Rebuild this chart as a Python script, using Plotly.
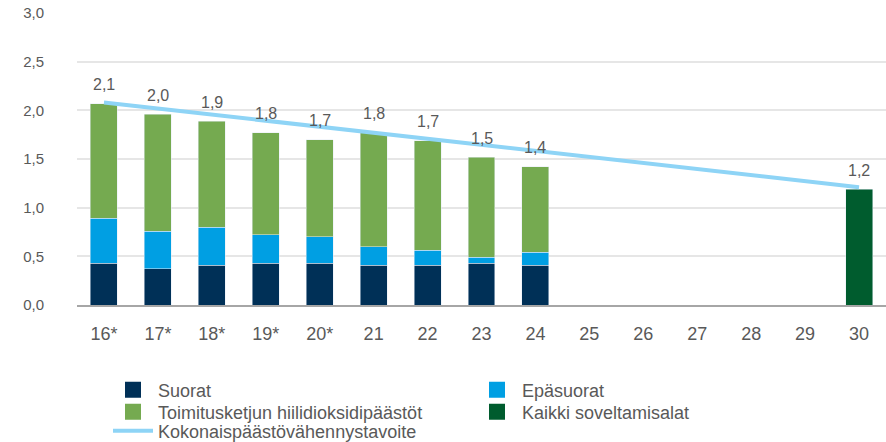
import plotly.graph_objects as go

categories = ["16*", "17*", "18*", "19*", "20*", "21", "22", "23", "24",
              "25", "26", "27", "28", "29", "30"]
bar_years = ["16*", "17*", "18*", "19*", "20*", "21", "22", "23", "24"]
suorat = [0.43, 0.37, 0.41, 0.43, 0.43, 0.41, 0.41, 0.43, 0.41]
epasuorat = [0.46, 0.39, 0.39, 0.29, 0.27, 0.19, 0.15, 0.06, 0.13]
toimitusketju = [1.18, 1.20, 1.09, 1.05, 1.00, 1.17, 1.13, 1.03, 0.88]
kaikki_years = ["30"]
kaikki = [1.19]
target_years = ["16*", "30"]
target = [2.08, 1.21]

names = ["Suorat", "Epäsuorat", "Toimitusketjun hiilidioksidipäästöt",
         "Kaikki soveltamisalat", "Kokonaispäästövähennystavoite"]
C_NAVY = "#003057"
C_BLUE = "#009FE3"
C_GREEN = "#75AA50"
C_DGREEN = "#005C2E"
C_LINE = "#8ED4F6"
TXT = "#595959"

fig = go.Figure()
fig.add_bar(x=bar_years, y=suorat, marker_color=C_NAVY, showlegend=False, name=names[0])
fig.add_bar(x=bar_years, y=epasuorat, marker_color=C_BLUE, showlegend=False, name=names[1])
fig.add_bar(x=bar_years, y=toimitusketju, marker_color=C_GREEN, showlegend=False, name=names[2])
fig.add_bar(x=kaikki_years, y=kaikki, marker_color=C_DGREEN, showlegend=False, name=names[3])
fig.add_scatter(x=target_years, y=target, mode="lines",
                line=dict(color=C_LINE, width=4), showlegend=False, name=names[4])

# legend entries (three rows, each its own legend)
legend_rows = [("legend", [(names[0], C_NAVY), (names[1], C_BLUE)]),
               ("legend2", [(names[2], C_GREEN), (names[3], C_DGREEN)])]
for lg, items in legend_rows:
    for nm, col in items:
        fig.add_scatter(x=[None], y=[None], mode="markers", name=nm, legend=lg,
                        marker=dict(symbol="square", size=19, color=col, line=dict(width=0)))
fig.add_scatter(x=[None], y=[None], mode="lines", name=names[4], legend="legend3",
                line=dict(color=C_LINE, width=4))

totals = [a + b + c for a, b, c in zip(suorat, epasuorat, toimitusketju)]
label_x = bar_years + kaikki_years
label_y = totals + kaikki
for xx, yy in zip(label_x, label_y):
    fig.add_annotation(x=categories.index(xx), y=yy, text=f"{yy:.1f}".replace(".", ","),
                       showarrow=False, yshift=19, font=dict(size=16, color=TXT))

leg_common = dict(orientation="h", xref="container", yref="container",
                  xanchor="left", yanchor="middle", entrywidth=309, itemwidth=40,
                  font=dict(size=18, color=TXT), traceorder="normal",
                  bgcolor="rgba(0,0,0,0)")
fig.update_layout(
    width=886, height=442,
    margin=dict(l=77, r=0, t=13, b=137),
    paper_bgcolor="white", plot_bgcolor="white",
    font=dict(family="Liberation Sans", color=TXT),
    separators=", ",
    barmode="stack", bargap=0.5,
    legend=dict(leg_common, x=108 / 886, y=1 - 390 / 442),
    legend2=dict(leg_common, x=108 / 886, y=1 - 412 / 442),
    legend3=dict(leg_common, x=108 / 886, y=1 - 431 / 442),
)
fig.update_xaxes(type="category", categoryorder="array", categoryarray=categories,
                 range=[-0.5, 14.5], showline=True, linecolor="#A6A6A6", linewidth=2,
                 showgrid=False, ticks="", tickfont=dict(size=18, color=TXT),
                 ticklabelstandoff=11, automargin=False)
fig.update_yaxes(range=[0, 3], dtick=0.5, tickformat=".1f", showgrid=True,
                 gridcolor="#E6E6E6", gridwidth=1.5, zeroline=False, showline=False,
                 tickfont=dict(size=15, color=TXT), ticklabelstandoff=32, automargin=False)

fig.write_html("out.html", config={"displayModeBar": False},
               post_script="document.body.style.margin='0';")
